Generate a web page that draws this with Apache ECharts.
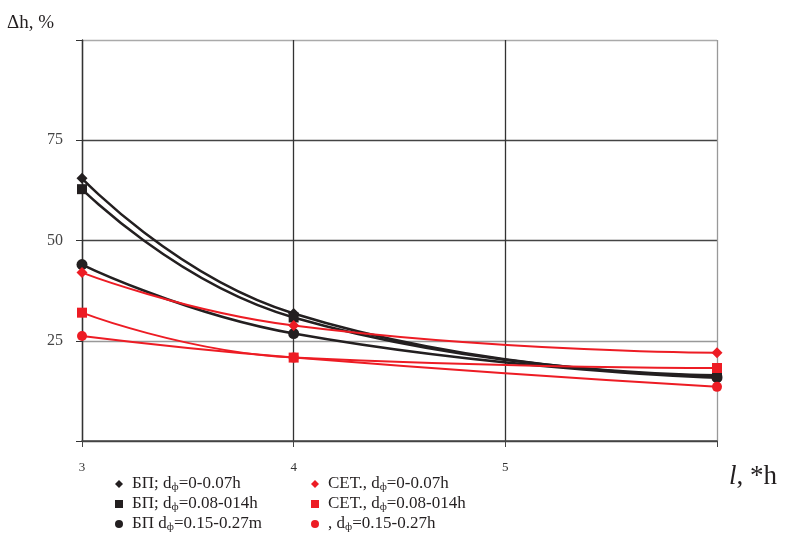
<!DOCTYPE html>
<html><head><meta charset="utf-8">
<script src="https://cdn.jsdelivr.net/npm/echarts@6/dist/echarts.min.js"></script>
<style>html,body{margin:0;padding:0;background:#fff}#c{width:785px;height:539px}</style>
</head><body><div id="c"></div>
<script>
const xValues = [3, 4, 6];
const xTickLabels = ['3', '4', '5', ''];
const yTickLabels = { 25: '25', 50: '50', 75: '75' };
const bpD1 = [65.5, 31.8, 16.2];
const bpD2 = [62.8, 30.8, 16.4];
const bpD3 = [44.0, 26.8, 15.8];
const setD1 = [42.0, 28.8, 22.0];
const setD2 = [32.0, 20.8, 18.2];
const setD3 = [26.2, 20.8, 13.5];
const names = [
  'БП; d{s|ф}=0-0.07h',
  'БП; d{s|ф}=0.08-014h',
  'БП d{s|ф}=0.15-0.27m',
  'СЕТ., d{s|ф}=0-0.07h',
  'СЕТ., d{s|ф}=0.08-014h',
  ', d{s|ф}=0.15-0.27h'
];
const BLACK = '#231f20', RED = '#ed1c24';
const SERIF = '"Liberation Serif", "DejaVu Serif", serif';
function pts(arr){ return xValues.map((x,i)=>[x, arr[i]]); }
function mk(name, arr, color, symbol, size, width){
  return { name, type:'line', data: pts(arr), smooth: 0.5, symbol, symbolSize: size,
    showSymbol:true, lineStyle:{color, width}, itemStyle:{color}, z: color===RED?3:2 };
}
const chart = echarts.init(document.getElementById('c'));
const legText = { fontFamily: SERIF, fontSize: 17, color: '#231f20', lineHeight: 18, padding:[0,0,0,4],
  rich: { s: { fontFamily: SERIF, fontSize: 11, lineHeight: 13, padding:[6,0,0,0], color:'#231f20' } } };
chart.setOption({
  animation:false,
  backgroundColor:'#fff',
  title:{ text:'Δh, %', left: 2, top: 9, textStyle:{ fontFamily: SERIF, fontSize: 19, fontWeight:'normal', color:'#231f20'} },
  grid:{ left:82, right:68, top:40, bottom:98 },
  xAxis:{ type:'value', min:3, max:6, interval:1,
    name:'{i|l}, *h', nameLocation:'end', nameGap:12,
    nameTextStyle:{ fontFamily: SERIF, fontSize: 27, color:'#231f20', verticalAlign:'top', padding:[22,0,0,0],
      rich:{ i:{ fontFamily: SERIF, fontSize:27, fontStyle:'italic', color:'#231f20' } } },
    axisLine:{ lineStyle:{ color:'#444', width:1.5 } },
    axisTick:{ show:true, length:6, lineStyle:{ color:'#444' } },
    axisLabel:{ margin:20, fontFamily: SERIF, fontSize:13, color:'#333',
      formatter: v => xTickLabels[Math.round(v-3)] },
    splitLine:{ show:true, lineStyle:{ color:['#333','#333','#333','#999'], width:1.3 } }
  },
  yAxis:{ type:'value', min:0, max:100, interval:25,
    axisLine:{ show:true, lineStyle:{ color:'#333', width:1.3 } },
    axisTick:{ show:true, length:6, lineStyle:{ color:'#333' } },
    axisLabel:{ margin:19, fontFamily: SERIF, fontSize:16, color:'#444',
      formatter: v => yTickLabels[v] || '' },
    splitLine:{ show:true, lineStyle:{ color:['#444','#999','#444','#444','#aaa'], width:1.3 } }
  },
  legend:[
    { orient:'vertical', left:115, top:475, height:66, itemGap:2, itemWidth:8, itemHeight:8, padding:0,
      textStyle: legText,
      data:[{name:names[0], icon:'diamond'},{name:names[1], icon:'rect'},{name:names[2], icon:'circle'}] },
    { orient:'vertical', left:311, top:475, height:66, itemGap:2, itemWidth:8, itemHeight:8, padding:0,
      textStyle: legText,
      data:[{name:names[3], icon:'diamond'},{name:names[4], icon:'rect'},{name:names[5], icon:'circle'}] }
  ],
  series:[
    mk(names[0], bpD1, BLACK, 'diamond', 11, 2.5),
    mk(names[1], bpD2, BLACK, 'rect', 10, 2.5),
    mk(names[2], bpD3, BLACK, 'circle', 11, 2.5),
    mk(names[3], setD1, RED, 'diamond', 11, 2),
    mk(names[4], setD2, RED, 'rect', 10, 2),
    mk(names[5], setD3, RED, 'circle', 10, 2)
  ]
});
</script></body></html>
